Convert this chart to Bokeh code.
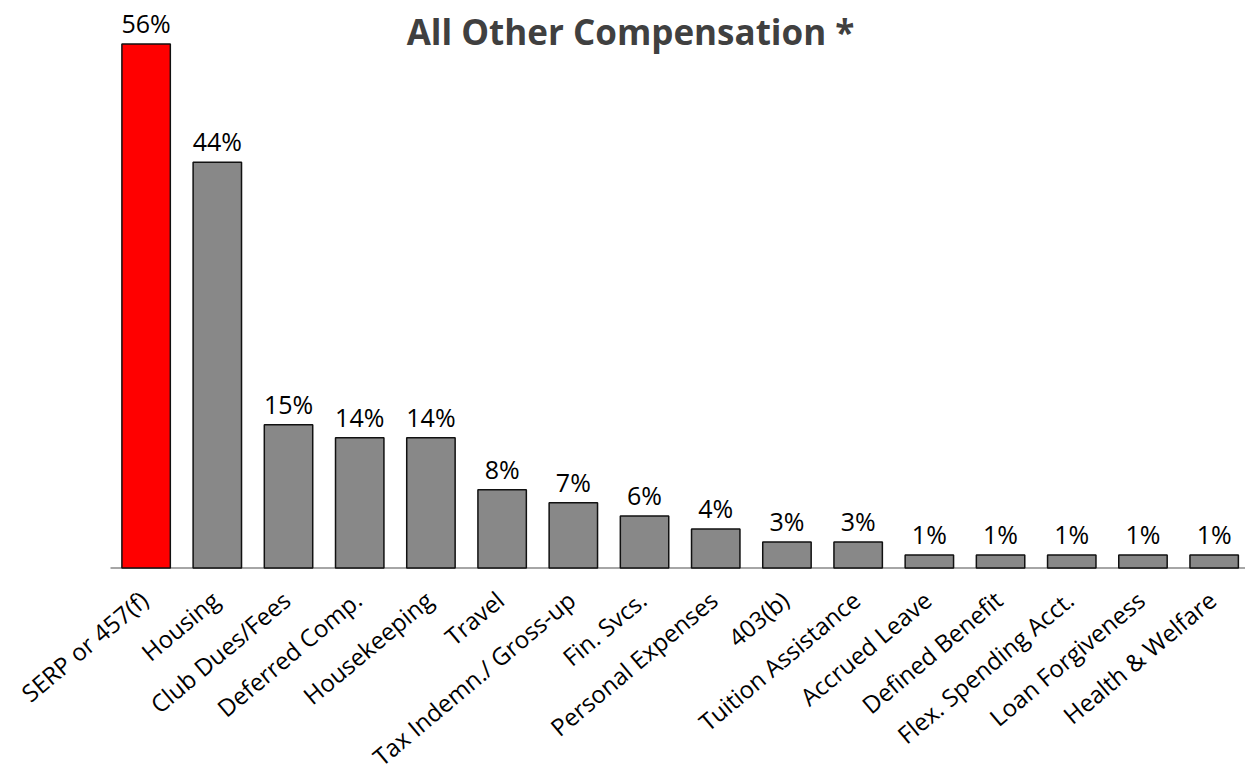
import math
from bokeh.plotting import figure
from bokeh.models import ColumnDataSource, Range1d, Label, LabelSet
from bokeh.core.properties import value
from bokeh.embed import file_html
from bokeh.resources import INLINE

categories = ["SERP or 457(f)", "Housing", "Club Dues/Fees", "Deferred Comp.",
              "Housekeeping", "Travel", "Tax Indemn./ Gross-up", "Fin. Svcs.",
              "Personal Expenses", "403(b)", "Tuition Assistance", "Accrued Leave",
              "Defined Benefit", "Flex. Spending Acct.", "Loan Forgiveness",
              "Health & Welfare"]
percents = [56.3, 43.6, 15.4, 14.0, 14.0, 8.4, 7.0, 5.6, 4.2, 2.8, 2.8,
            1.4, 1.4, 1.4, 1.4, 1.4]
highlight = "SERP or 457(f)"

FONT = "Open Sans"
xs = list(range(len(categories)))
colors = ["#FF0000" if c == highlight else "#888888" for c in categories]
labels = [f"{round(v)}%" for v in percents]

src = ColumnDataSource(dict(x=xs, top=percents, base=[0] * len(xs), color=colors,
                            label=labels, cat=categories))

X_END = 15.44
p = figure(width=1245, height=781, output_backend="svg", toolbar_location=None,
           x_range=Range1d(-2.045, X_END), y_range=Range1d(-22.94, 60.98),
           min_border_left=0, min_border_right=0, min_border_top=0,
           min_border_bottom=0)
p.outline_line_color = None
p.grid.visible = False
p.xaxis.visible = False
p.yaxis.visible = False

# category baseline, from the left edge of the first slot to the right edge
p.segment(x0=[min(xs) - 0.5], y0=[0], x1=[X_END], y1=[0],
          line_color="#A6A6A6", line_width=2)

p.vbar(x="x", top="top", bottom="base", width=0.68, fill_color="color",
       line_color="#111111", line_width=1.5, source=src)
vals = LabelSet(x="x", y="top", text="label", source=src, text_align="center",
                text_baseline="bottom", y_offset=4, text_font=value(FONT),
                text_font_size="25px", text_color="#000000")
p.add_layout(vals)

cats = LabelSet(x="x", y="base", text="cat", source=src, angle=math.radians(40),
                text_align="right", text_baseline="middle", x_offset=-2, y_offset=-28,
                text_font=value(FONT), text_font_size="24px", text_color="#000000")
p.add_layout(cats)

title = Label(x=630, y=774, x_units="screen", y_units="screen",
              text="All Other Compensation *", text_align="center",
              text_baseline="top", text_font=FONT, text_font_style="bold",
              text_font_size="35px", text_color="#404040")
p.add_layout(title)

open("out.html", "w").write(file_html(p, INLINE))
